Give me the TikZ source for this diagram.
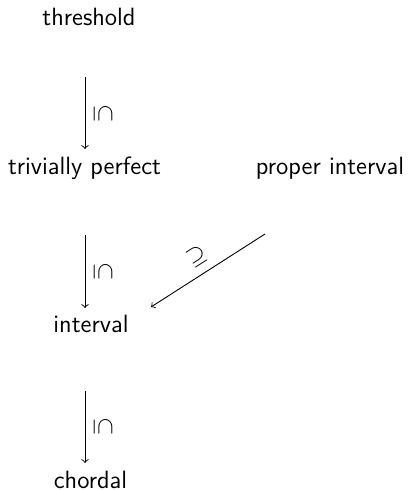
\documentclass[tikz,border=0pt]{standalone}
\usepackage{amsmath, amssymb}
\usetikzlibrary{positioning}

\begin{document}
\begin{tikzpicture}[x=0.5pt, y=-0.5pt, font=\sffamily\fontsize{12.5}{15}\selectfont,
  every node/.style={inner sep=0.5pt},
  incl/.style={->, line width=0.45pt},
  sublabel/.style={xshift=9pt, rotate=-90}]
  \useasboundingbox (0,0) rectangle (409,490);
  \node (thr) at (89,17) {threshold};
  \node (tp) at (84.5,168) {trivially perfect};
  \node (pi) at (330,168) {proper interval};
  \node (int) at (91,324) {interval};
  \node (cho) at (90.5,479.5) {chordal};
  \coordinate (col) at (85,0);
  \draw[incl, shorten <=30pt, shorten >=9.5pt] (thr.center -| col) -- (tp.center -| col)
    node[pos=0.64, sublabel] {$\subseteq$};
  \draw[incl, shorten <=33.5pt, shorten >=8pt] (tp.center -| col) -- (int.center -| col)
    node[pos=0.667, sublabel] {$\subseteq$};
  \draw[incl, shorten <=33.25pt, shorten >=8.25pt] (int.center -| col) -- (cho.center -| col)
    node[pos=0.66, sublabel] {$\subseteq$};
  \draw[incl] ([shift={(-65,66)}]pi.center) -- ([shift={(60,-17)}]int.center)
    node[midway, xshift=-5.25pt, yshift=7.25pt, rotate=32.6] {$\supseteq$};
\end{tikzpicture}
\end{document}
